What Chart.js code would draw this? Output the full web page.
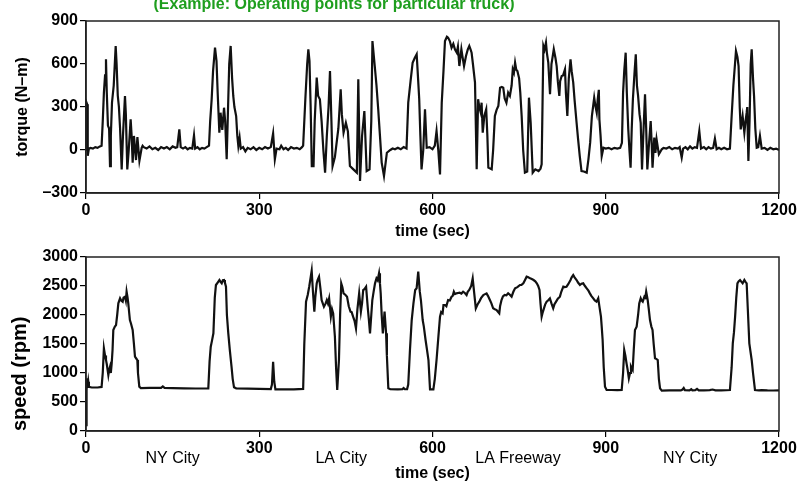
<!DOCTYPE html>
<html>
<head>
<meta charset="utf-8">
<script src="https://cdn.jsdelivr.net/npm/chart.js@4.4.1/dist/chart.umd.min.js"></script>
<style>
  html, body { margin: 0; padding: 0; background: #fff; }
  #wrap { position: relative; width: 800px; height: 485px; overflow: hidden; }
  #c1 { position: absolute; left: 0; top: 0; }
  #c2 { position: absolute; left: 0; top: 240px; }
</style>
</head>
<body>
<div id="wrap">
  <canvas id="c1" width="800" height="240"></canvas>
  <canvas id="c2" width="800" height="245"></canvas>
</div>
<script>
const TITLE = "(Example: Operating points for particular truck)";
const X_TITLE = "time (sec)";
const TORQUE_TITLE = "torque (N\u2013m)";
const SPEED_TITLE = "speed (rpm)";
const xTicks = [0, 300, 600, 900, 1200];
const torqueTicks = [-300, 0, 300, 600, 900];
const speedTicks = [0, 500, 1000, 1500, 2000, 2500, 3000];
const regionLabels = ["NY City", "LA City", "LA Freeway", "NY City"];
const regionCenters = [150, 442, 748, 1046];

const torqueTime = [0,1,2,3,5,8,12,16,20,24,27,29,31,33,34.6,36,38,40,41.6,43,45,48,51.4,53,55,57,59,61.8,64,67.5,69,71.5,74,77.3,79,80.8,83,86.6,89,92.5,96.4,98,100,105,110,115,120,125,130,135,140,145,150,155,158,161.6,164,168,172,176,180,184,187,189,193,197,201,205,209,213,215,217.6,220,223.4,226,228,230.9,233,236,239,241,243.6,246,248,250.5,253,255,257,260,262,263.8,266,268,272,276,280,285,290,295,300,305,310,315,320,324,327,330,335,338,342,346,350,355,360,365,370,374,376,380,383,385,387,389,391,394,396,399.5,402,405,408,411,414,417,420,422.5,425,427,431,434,437,441,443,446,450,453.5,457,463,469,471.5,474.5,478,482,486,491,494,496,500,503,506,509,512,516,521,527,531,535,540,545,550,555,558,562,565.6,569,572.6,575,577,579,581,584,587,590,595,600,604,607,610,613,616,619,621.6,625,627,630,633,636,639,642,644,646.5,650,652,654.6,658,661,663.7,666,667.7,670,673.6,676.5,679,681,683.6,685,687,689.7,693,695,696.7,702.5,705,708,711,714,717,720,722.5,725,728,731,734,737,739,741,743,745,747,750,752,754.4,757,760,764,767,770,773.5,778,783.6,787,789,792,794,796.5,798,800.5,803.5,806,808,810,813,815,817,819.6,821,823.7,826,829.4,831,833.5,836,839,841,843.7,846,849.5,852,855,858,862,867,870,873,876,878,880,882,884.4,886,888,889,891,893,896,900,905,910,915,920,925,928,930,932,934.5,936.5,939,941,943,945,947,950,952,954,956,958.5,960.5,962.8,965,968,970,972,975,977.8,979.5,981,984,986,988,992,997,1000,1005,1010,1015,1020,1025,1028,1031.5,1034,1038,1042,1046,1050,1054,1058,1062,1065,1070,1074,1078,1082,1086,1089,1092,1096,1100,1105,1110,1115,1118,1121,1125.5,1128,1130,1132,1133.7,1137,1140,1142,1144,1145,1147,1149,1151,1152.7,1155,1156.8,1159,1161.4,1164,1167,1170,1175,1180,1185,1190,1195,1200];
const torqueVal = [0,330,320,-40,10,15,10,20,15,25,30,200,400,520,633,400,170,150,-112,100,330,450,726,600,380,300,150,-135,100,377,250,-135,0,214,100,-88,98,-70,90,-75,16,30,20,10,25,5,15,0,20,10,20,5,25,15,20,144,20,10,20,5,15,10,102,10,20,5,15,10,20,30,200,354,550,714,620,400,121,260,140,295,200,-65,300,600,726,500,377,300,237,100,28,86,10,20,-10,15,5,20,0,15,5,20,10,20,116,-65,10,5,30,5,15,0,20,10,15,5,20,30,370,600,703,620,300,-112,-112,200,505,377,354,200,0,-158,98,300,551,200,-112,-50,51,150,423,250,121,190,130,-112,-135,-158,493,-216,98,272,-147,-135,200,760,586,450,284,100,-88,-181,-19,0,10,5,15,5,20,10,330,480,609,640,668,500,354,100,-135,0,284,16,20,5,30,132,0,-170,330,550,760,790,784,760,714,740,700,679,720,586,703,650,586,656,700,726,700,679,600,470,-135,354,300,260,330,121,237,284,100,-123,-135,0,237,280,307,435,440,435,360,330,400,377,450,563,540,609,560,551,500,400,237,0,-158,-150,365,190,-158,-135,-147,-130,-100,726,700,749,680,609,389,600,650,703,640,586,480,377,480,516,520,563,400,237,500,633,550,470,350,190,80,-42,-147,-150,-158,-65,51,237,300,365,310,260,350,420,214,100,-42,16,10,15,5,15,10,15,50,400,550,679,400,144,0,-123,150,354,550,668,450,377,250,190,-135,100,389,150,-135,50,202,50,-123,86,-20,75,-30,5,15,10,20,5,15,10,20,-53,10,20,5,25,10,20,15,132,10,20,5,20,10,15,79,5,15,5,15,5,10,237,450,691,650,586,300,144,237,121,200,260,300,-77,200,600,703,500,377,150,16,20,98,10,15,0,15,5,10,0];

const speedTime = [0,1,2,3,4,5,10,20,27,29,31,33,34.6,36,38.7,40,41.6,43,44.5,46,47.3,50,52,54,56,59,61,63.5,65,67.5,69,70.3,72,73.2,76,78,80.8,83,84.8,87,88.9,90,92.3,95,110,130,133,136,150,170,190,211.8,214,216,218,220.6,223,225,228,231,233,235,237,239,240.5,242.4,244,246.4,249,252,254,256.3,260,280,300,320,322,324,326,328,340,360,376,378,381,384,386.5,389,390.8,393,395.4,397,399.5,401,403.5,406,408,410,412,415,417,419,421,424,426,428,431,433,435,438,440,442,444,446,449,452,455,458,460,462.5,465,467.5,470,473,476,478,480,482.5,485,488,490,491.8,494,495.8,498,500.5,503,505,507.4,509,510.3,512,514,517,519.6,521,523.5,527,540,548,550,552,556,558,561,564,567,570,572.5,575.3,578,580,583,585,588,590.5,593,595.7,601.5,604,607,610,613,615,617.5,619,621.6,624,627,630,633,635,637,639,641.6,644,647,650,653,656,659,661,663.6,667,669.6,672,675,678,681,684,688,691,693.6,696,699.4,702,705,708,711,713,715.6,717,719.5,722,725,728,731,734,737,740,743,747,751.6,754,757.3,760,763,766,769,772,775,778,780.6,783,785.3,787,789,791,793,795,797.6,800,803.3,806,809,811,814,817,820.6,823,826.5,829,832,835,839,841,843.7,846,849.5,852,855.3,858,861,864,867,870,872.5,875,878.4,881,884,887,889,891.7,893,894.6,896.5,898.7,901.5,910,920,927.6,930,932,934,936,938,940,942,943.7,945,946.6,948.5,950.6,953.5,956,958,960.5,962,964,967,968.5,970,972.6,974.5,976.6,979,981,983,985.3,988,990,992,994,997,1010,1030,1033,1035,1037,1045,1048,1050,1055,1058,1061,1070,1080,1085,1090,1100,1115,1118,1120,1122,1124,1126,1128,1130,1132.5,1135,1137,1140,1142,1144,1146,1148.6,1152.7,1155,1158.4,1165,1170,1180,1190,1200];
const speedVal = [100,700,908,760,850,760,750,750,760,1000,1425,1300,1224,1150,965,1050,1110,1000,1167,1400,1741,1800,1827,2000,2201,2288,2250,2230,2300,2316,2250,2402,2300,2201,1913,1850,1741,1500,1281,1250,1224,1000,764,740,745,745,770,745,740,735,733,735,1200,1454,1550,1684,2300,2517,2560,2603,2570,2546,2600,2603,2560,2488,2000,1684,1400,1109,900,753,736,730,725,722,800,1195,850,719,719,719,725,1500,2229,2350,2488,2650,2764,2400,2057,2300,2546,2600,2660,2450,2258,2200,2143,2200,2258,2200,2287,1971,2100,2028,1626,1100,707,1224,2000,2546,2480,2373,2350,2316,2150,2057,2050,1971,1900,1770,2100,2373,2057,2200,2431,2450,2488,2115,1900,1684,2000,2258,2400,2546,2632,2600,2718,2550,2373,2000,1684,2057,1684,1300,736,720,719,722,740,720,722,800,1400,1913,2200,2431,2460,2747,2402,2250,1913,1800,1569,1400,1224,719,719,900,1224,1600,1971,2050,2029,2172,2172,2150,2258,2250,2316,2330,2402,2360,2373,2380,2385,2370,2402,2380,2345,2400,2431,2500,2632,2400,2115,2180,2230,2290,2345,2360,2373,2330,2258,2200,2115,2100,2086,2060,2029,2150,2258,2320,2345,2340,2373,2350,2316,2400,2460,2480,2517,2520,2546,2600,2660,2650,2632,2620,2603,2580,2546,2500,2431,2200,1971,2050,2115,2180,2230,2250,2287,2200,2115,2180,2230,2280,2316,2400,2488,2480,2488,2530,2603,2650,2689,2650,2603,2560,2517,2540,2546,2500,2460,2420,2373,2330,2287,2250,2230,2287,2150,1971,1800,1569,1100,764,707,707,705,707,1000,1397,1300,1167,1050,908,1000,1109,1080,1052,1400,1741,1798,2000,2200,2287,2250,2230,2316,2300,2402,2258,2100,1913,1800,1741,1500,1253,1240,1224,900,736,696,700,700,715,740,705,700,720,700,705,725,700,702,705,715,700,702,707,1100,1512,1700,1971,2300,2546,2580,2603,2570,2546,2603,2570,2546,2100,1512,1224,1000,707,700,705,700,698,700];

Chart.defaults.font.family = "'Liberation Sans', Arial, Helvetica, sans-serif";
Chart.defaults.color = '#000';
Chart.defaults.animation = false;

const toPts = (xs, ys) => xs.map((x, i) => ({ x: x, y: ys[i] }));
const fmt = v => (v < 0 ? '\u2013' + Math.abs(v) : String(v));

const boxPlugin = {
  id: 'box',
  afterDatasetsDraw(chart) {
    const a = chart.chartArea, ctx = chart.ctx;
    ctx.save();
    ctx.strokeStyle = '#222';
    ctx.lineWidth = 1.5;
    ctx.strokeRect(a.left, a.top, a.right - a.left, a.bottom - a.top);
    ctx.restore();
  }
};

const titlePlugin = {
  id: 'topTitle',
  afterDraw(chart) {
    const ctx = chart.ctx;
    ctx.save();
    ctx.font = "bold 16px 'Liberation Sans', Arial, sans-serif";
    ctx.fillStyle = '#1e9e1e';
    ctx.textAlign = 'center';
    ctx.textBaseline = 'alphabetic';
    ctx.fillText(TITLE, 334, 9);
    ctx.restore();
  }
};

const regionPlugin = {
  id: 'regions',
  afterDraw(chart) {
    const ctx = chart.ctx, xs = chart.scales.x;
    ctx.save();
    ctx.font = "16px 'Liberation Sans', Arial, sans-serif";
    ctx.fillStyle = '#000';
    ctx.textAlign = 'center';
    ctx.textBaseline = 'middle';
    regionLabels.forEach((lab, i) => {
      ctx.fillText(lab, xs.getPixelForValue(regionCenters[i]), 219);
    });
    ctx.restore();
  }
};

function makeX(titlePadBottom, height) {
  return {
    type: 'linear', min: 0, max: 1200,
    afterBuildTicks: s => { s.ticks = xTicks.map(v => ({ value: v })); },
    afterFit: s => { s.height = height; },
    ticks: { font: { size: 16, weight: 'bold' }, color: '#000', padding: 2, maxRotation: 0, autoSkip: false, callback: v => fmt(v) },
    grid: { drawOnChartArea: false, drawTicks: true, tickLength: 6, color: '#000', lineWidth: 1.2 },
    border: { display: true, color: '#222', width: 1.5 },
    title: { display: true, text: X_TITLE, font: { size: 16, weight: 'bold' }, color: '#000', padding: { top: 0, bottom: titlePadBottom } }
  };
}

function makeY(min, max, ticks, text, size, padTop, align) {
  return {
    type: 'linear', min: min, max: max,
    afterBuildTicks: s => { s.ticks = ticks.map(v => ({ value: v })); },
    afterFit: s => { s.width = 86; },
    ticks: { font: { size: 16, weight: 'bold' }, color: '#000', padding: 2, autoSkip: false, callback: v => fmt(v) },
    grid: { drawOnChartArea: false, drawTicks: true, tickLength: 6, color: '#000', lineWidth: 1.2 },
    border: { display: true, color: '#222', width: 1.5 },
    title: { display: true, text: text, align: align, font: { size: size, weight: 'bold' }, color: '#000', padding: { top: padTop, bottom: 0 } }
  };
}

new Chart(document.getElementById('c1'), {
  type: 'line',
  data: { datasets: [{ data: toPts(torqueTime, torqueVal), borderColor: '#111', borderWidth: 2.2, pointRadius: 0, tension: 0, fill: false }] },
  options: {
    responsive: false, maintainAspectRatio: false,
    layout: { padding: { top: 21, right: 21, left: 0, bottom: 0 } },
    plugins: { legend: { display: false }, tooltip: { enabled: false } },
    scales: { x: makeX(-1, 47), y: makeY(-300, 900, torqueTicks, TORQUE_TITLE, 16, 13, 'center') }
  },
  plugins: [boxPlugin, titlePlugin]
});

new Chart(document.getElementById('c2'), {
  type: 'line',
  data: { datasets: [{ data: toPts(speedTime, speedVal), borderColor: '#111', borderWidth: 2.2, pointRadius: 0, tension: 0, fill: false }] },
  options: {
    responsive: false, maintainAspectRatio: false,
    layout: { padding: { top: 17, right: 21, left: 0, bottom: 0 } },
    plugins: { legend: { display: false }, tooltip: { enabled: false } },
    scales: { x: makeX(2, 54), y: makeY(0, 3000, speedTicks, SPEED_TITLE, 20, 8, 'start') }
  },
  plugins: [boxPlugin, regionPlugin]
});
</script>
</body>
</html>
